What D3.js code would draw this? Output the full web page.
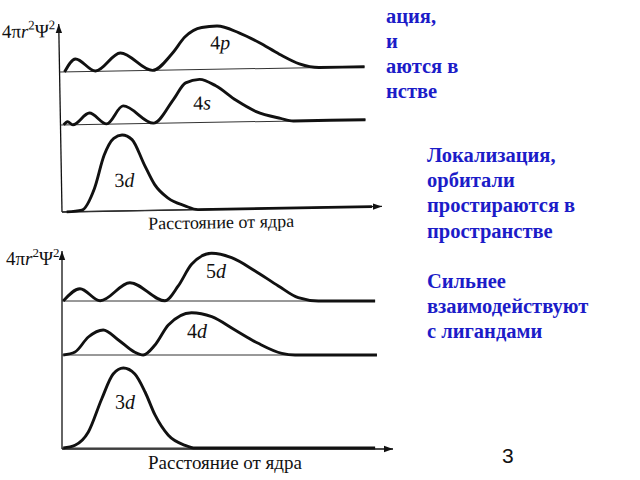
<!DOCTYPE html>
<html><head><meta charset="utf-8">
<script src="https://cdn.jsdelivr.net/npm/d3@7/dist/d3.min.js"></script>
<style>body{margin:0;background:#fff;}svg{display:block;}</style>
</head><body>
<script>
// ---- DATA (distance from nucleus in arbitrary units 0..100, radial density 0..100) ----
const topOrbitals = ["4p", "4s", "3d"];
const bottomOrbitals = ["5d", "4d", "3d"];
const curve4p = [[1.6,0],[5.2,16],[11.6,0.5],[19.7,22.5],[30,0],[36.5,21],[40.6,41],[46.1,52.5],[51,54],[58.1,45],[64.5,32.5],[71,17.5],[77.4,5],[83.9,0],[98.4,0]];
const curve4s = [[1,0],[2.3,4],[4,0],[9.4,14.4],[14.9,0.4],[20.3,22.5],[30,0.3],[36.5,29],[40.6,50],[45.1,54],[50.3,45.6],[56.8,27],[63.2,12.5],[71,3.5],[75.2,0],[98.4,0]];
const curve3dTop = [[1.5,0],[6.4,1.9],[10.6,28.8],[13.9,70],[17.1,91],[19.8,95],[23,89],[26.8,57.5],[30,32.5],[34.3,15],[39.7,5],[43.9,0],[100,0]];
const curve5d = [[0.4,0],[5.8,15.4],[12.3,0.3],[21.9,22.9],[33.2,0.3],[37.5,18.8],[41.8,45.9],[48.3,59.6],[54.7,54.1],[62.3,37.5],[69.8,18.8],[76.2,4.1],[82.7,0],[101,0]];
const curve4d = [[0.4,0],[4.2,3.75],[8.5,22.5],[13.3,31.3],[18.2,18.8],[23.5,3.4],[26.2,0],[30,12.5],[34.3,37.5],[41.8,52.9],[48.3,47.9],[55.8,31.3],[63.3,14.6],[70.9,2.1],[75.2,0],[101.6,0]];
const curve3dBottom = [[0.4,0],[4.2,3.4],[8.5,20],[12.8,61.3],[16.5,92.5],[19.8,100],[23.5,92.5],[26.8,70],[30,41.3],[34.3,15.9],[39.7,3.4],[42.9,0],[101,0]];
const yAxisLabel = ["4π", "r", "2", "Ψ", "2"];
const xAxisLabel = "Расстояние от ядра";
const rightTextMain = ["Локализация,", "орбитали", "простираются в", "пространстве", "", "Сильнее", "взаимодействуют", "с лигандами"];
const rightTextTop = ["ация,", "и", "аются в", "нстве"];
const pageNumber = "3";

// ---- DRAWING ----
const svg = d3.select("body").append("svg").attr("width", 640).attr("height", 480);
const defs = svg.append("defs");
defs.append("marker").attr("id", "arr").attr("markerUnits", "userSpaceOnUse")
  .attr("markerWidth", 10).attr("markerHeight", 8).attr("refX", 9).attr("refY", 4)
  .attr("orient", "auto")
  .append("path").attr("d", "M0,0.8 L9,4 L0,7.2 Z").attr("fill", "#111");

const serif = "'Liberation Serif','Times New Roman',serif";

function panel(g, cfg) {
  const x = d3.scaleLinear().domain([0, 100]).range([cfg.x0, cfg.x0 + 310]);
  g.append("line").attr("x1", cfg.x0).attr("y1", cfg.axisY).attr("x2", cfg.x0).attr("y2", cfg.yTop)
    .attr("stroke", "#111").attr("stroke-width", 1.3).attr("marker-end", "url(#arr)");
  g.append("line").attr("x1", cfg.x0).attr("y1", cfg.axisY).attr("x2", cfg.xEnd).attr("y2", cfg.axisY)
    .attr("stroke", "#111").attr("stroke-width", 1.3).attr("marker-end", "url(#arr)");
  cfg.rows.forEach(row => {
    const y = d3.scaleLinear().domain([0, 100]).range([row.base, row.base - cfg.unit]);
    const last = row.data[row.data.length - 1][0];
    g.append("line").attr("x1", cfg.x0).attr("x2", x(last)).attr("y1", y(0)).attr("y2", y(0))
      .attr("stroke", "#333").attr("stroke-width", 1);
    const line = d3.line().x(d => x(d[0])).y(d => y(d[1])).curve(d3.curveMonotoneX);
    g.append("path").datum(row.data).attr("d", line).attr("fill", "none")
      .attr("stroke", "#111").attr("stroke-width", 2.9).attr("stroke-linejoin", "round");
    const t = g.append("text").attr("x", row.lx).attr("y", row.ly).attr("text-anchor", "middle")
      .attr("font-family", serif).attr("font-size", 20).attr("fill", "#111");
    t.append("tspan").text(row.name[0]);
    t.append("tspan").attr("font-style", "italic").text(row.name.slice(1));
  });
  const yl = g.append("text").attr("x", cfg.ylx).attr("y", cfg.yly).attr("font-family", serif)
    .attr("font-size", 19).attr("fill", "#111");
  yl.append("tspan").text(yAxisLabel[0]);
  yl.append("tspan").attr("font-style", "italic").text(yAxisLabel[1]);
  yl.append("tspan").attr("font-size", 13).attr("dy", -8).text(yAxisLabel[2]);
  yl.append("tspan").attr("dy", 8).text(yAxisLabel[3]);
  yl.append("tspan").attr("font-size", 13).attr("dy", -8).text(yAxisLabel[4]);
  g.append("text").attr("x", cfg.xlx).attr("y", cfg.xly).attr("font-family", serif)
    .attr("font-size", cfg.xlSize).attr("fill", "#111").text(xAxisLabel);
}

const gTop = svg.append("g").attr("transform", "rotate(-1,62,212)");
panel(gTop, {
  x0: 62, axisY: 212, yTop: 24, xEnd: 382, unit: 80,
  ylx: 5, yly: 37, xlx: 148, xly: 231, xlSize: 18,
  rows: [
    {name: topOrbitals[0], data: curve4p, base: 72, lx: 223, ly: 52},
    {name: topOrbitals[1], data: curve4s, base: 125, lx: 204, ly: 112},
    {name: topOrbitals[2], data: curve3dTop, base: 212, lx: 125, ly: 188}
  ]
});

const gBot = svg.append("g");
panel(gBot, {
  x0: 62, axisY: 449, yTop: 251, xEnd: 393, unit: 80,
  ylx: 6, yly: 265, xlx: 148, xly: 469, xlSize: 19,
  rows: [
    {name: bottomOrbitals[0], data: curve5d, base: 301, lx: 216, ly: 278},
    {name: bottomOrbitals[1], data: curve4d, base: 355, lx: 197, ly: 338},
    {name: bottomOrbitals[2], data: curve3dBottom, base: 448, lx: 125, ly: 409}
  ]
});

const blue = "#1c1cc8";
svg.append("g").selectAll("text").data(rightTextTop).join("text")
  .attr("x", 386).attr("y", (d, i) => 23 + i * 25)
  .attr("font-family", serif).attr("font-weight", "bold").attr("font-size", 20.5)
  .attr("fill", blue).text(d => d);
svg.append("g").selectAll("text").data(rightTextMain).join("text")
  .attr("x", 427).attr("y", (d, i) => 162 + i * 25.2)
  .attr("font-family", serif).attr("font-weight", "bold").attr("font-size", 20.5)
  .attr("fill", blue).text(d => d);

svg.append("text").attr("x", 502).attr("y", 463).attr("font-family", "'Liberation Sans',Arial,sans-serif")
  .attr("font-size", 21).attr("fill", "#111").text(pageNumber);
</script>
</body></html>
